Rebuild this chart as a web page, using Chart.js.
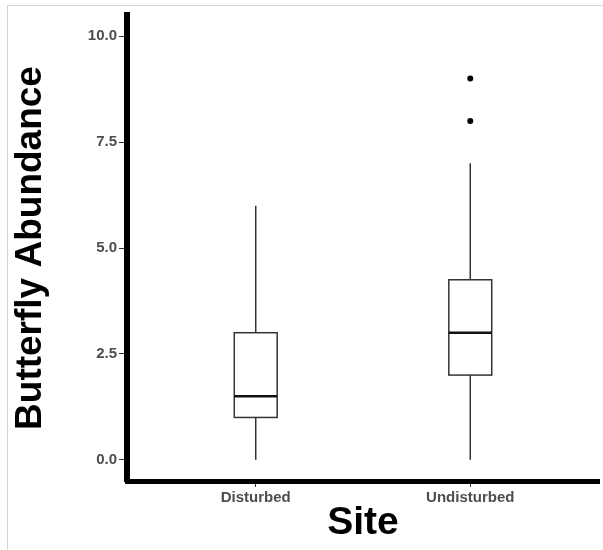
<!DOCTYPE html>
<html>
<head>
<meta charset="utf-8">
<script src="https://cdn.jsdelivr.net/npm/chart.js@4.4.1/dist/chart.umd.min.js"></script>
<style>
  html, body { margin: 0; padding: 0; background: #fff; }
  #wrap { position: relative; width: 603px; height: 550px; overflow: hidden; }
  #frame { position: absolute; left: 7px; top: 5px; right: 0; bottom: 0;
           border-left: 1px solid #d4d4d4; border-top: 1px solid #d4d4d4; }
  canvas { position: absolute; left: 0; top: 0; }
</style>
</head>
<body>
<div id="wrap">
  <div id="frame"></div>
  <canvas id="chart" width="603" height="550"></canvas>
</div>
<script>
// box plot summary per site
const sites = ['Disturbed', 'Undisturbed'];
const whiskerLow = [0, 0];
const q1 = [1, 2];
const median = [1.5, 3];
const q3 = [3, 4.25];
const whiskerHigh = [6, 7];

// outliers
const outlierSite = ['Undisturbed', 'Undisturbed'];
const outlierValue = [8, 9];

const yTicks = [0, 2.5, 5, 7.5, 10];

Chart.defaults.font.family = "'Liberation Sans', Arial, sans-serif";

// draws whiskers, boxes and medians using the chart scales
const boxPlot = {
  id: 'boxPlot',
  afterDatasetsDraw(chart, args, opts) {
    const ctx = chart.ctx;
    const xs = chart.scales.x, ys = chart.scales.y;
    const half = opts.boxWidth / 2;
    ctx.save();
    sites.forEach((name, i) => {
      const cx = xs.getPixelForValue(i + 1);
      const left = xs.getPixelForValue(i + 1 - half);
      const right = xs.getPixelForValue(i + 1 + half);
      const yLo = ys.getPixelForValue(whiskerLow[i]);
      const yQ1 = ys.getPixelForValue(q1[i]);
      const yMed = ys.getPixelForValue(median[i]);
      const yQ3 = ys.getPixelForValue(q3[i]);
      const yHi = ys.getPixelForValue(whiskerHigh[i]);

      ctx.strokeStyle = opts.lineColor;
      ctx.lineWidth = opts.lineWidth;
      ctx.beginPath();
      ctx.moveTo(cx, yLo); ctx.lineTo(cx, yQ1);
      ctx.moveTo(cx, yQ3); ctx.lineTo(cx, yHi);
      ctx.stroke();

      ctx.fillStyle = '#fff';
      ctx.fillRect(left, yQ3, right - left, yQ1 - yQ3);
      ctx.strokeRect(left, yQ3, right - left, yQ1 - yQ3);

      ctx.strokeStyle = opts.medianColor;
      ctx.lineWidth = opts.medianWidth;
      ctx.beginPath();
      ctx.moveTo(left, yMed); ctx.lineTo(right, yMed);
      ctx.stroke();
    });
    ctx.restore();
  }
};

new Chart(document.getElementById('chart'), {
  type: 'scatter',
  data: {
    datasets: [{
      label: 'Outliers',
      data: outlierValue.map((v, i) => ({ x: sites.indexOf(outlierSite[i]) + 1, y: v })),
      pointRadius: 3,
      pointBackgroundColor: '#000',
      pointBorderColor: '#000',
      pointBorderWidth: 0
    }]
  },
  options: {
    responsive: false,
    animation: false,
    layout: { padding: { top: 15, right: 1, left: 0, bottom: 0 } },
    plugins: {
      legend: { display: false },
      tooltip: { enabled: false },
      boxPlot: { boxWidth: 0.2, lineColor: '#333', lineWidth: 1.5, medianColor: '#111', medianWidth: 2.5 }
    },
    scales: {
      x: {
        type: 'linear',
        min: 0.4,
        max: 2.6,
        afterBuildTicks: s => { s.ticks = sites.map((_, i) => ({ value: i + 1 })); },
        afterFit: s => { s.height = 69; },
        ticks: {
          callback: v => sites[v - 1],
          font: { size: 15, weight: 'bold' },
          color: '#4d4d4d',
          padding: 2,
          maxRotation: 0
        },
        grid: { drawOnChartArea: false, drawTicks: true, tickLength: 6, color: '#333' },
        border: { display: true, width: 5, color: '#000' },
        title: {
          display: true,
          text: 'Site',
          font: { size: 39, weight: 'bold' },
          color: '#000',
          padding: { top: 0, bottom: 3 }
        }
      },
      y: {
        min: -0.5,
        max: 10.5,
        afterBuildTicks: s => { s.ticks = yTicks.map(v => ({ value: v })); },
        afterFit: s => { s.width = 127; },
        ticks: {
          callback: v => v.toFixed(1),
          font: { size: 15, weight: 'bold' },
          color: '#4d4d4d',
          padding: 2
        },
        grid: { drawOnChartArea: false, drawTicks: true, tickLength: 8, color: '#333' },
        border: { display: true, width: 6, color: '#000' },
        title: {
          display: true,
          text: 'Butterfly Abundance',
          font: { size: 37, weight: 'bold' },
          color: '#000',
          padding: { top: 9, bottom: 0 }
        }
      }
    }
  },
  plugins: [boxPlot]
});
</script>
</body>
</html>
